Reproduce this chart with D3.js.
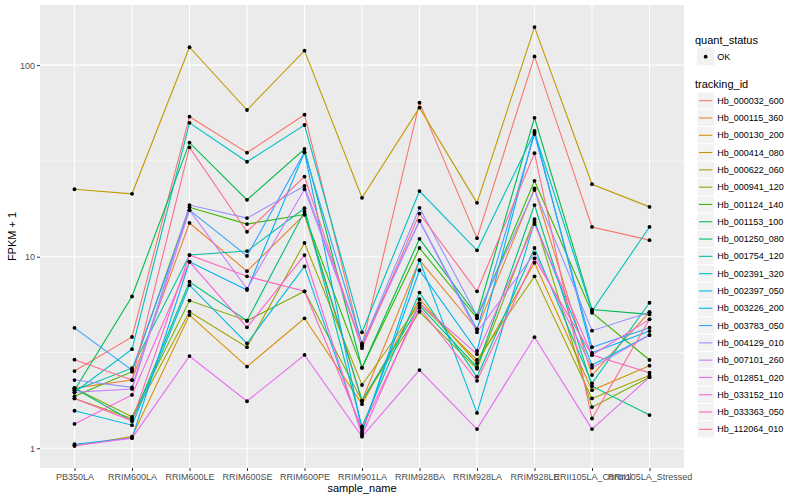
<!DOCTYPE html>
<html>
<head>
<meta charset="utf-8">
<script src="https://cdn.jsdelivr.net/npm/d3@7"></script>
<style>
	body { margin: 0; background: #fff; }
	text { font-family: 'Liberation Sans', Arial, sans-serif; }
</style>
</head>
<body>
<svg class="chart" width="800" height="500"></svg>
<script>
/** DATA **/
let samples = ['PB350LA', 'RRIM600LA', 'RRIM600LE', 'RRIM600SE', 'RRIM600PE', 'RRIM901LA',
	'RRIM928BA', 'RRIM928LA', 'RRIM928LE', 'RRII105LA_Control', 'RRII105LA_Stressed'];

let trackingIds = ['Hb_000032_600', 'Hb_000115_360', 'Hb_000130_200', 'Hb_000414_080', 'Hb_000622_060',
	'Hb_000941_120', 'Hb_001124_140', 'Hb_001153_100', 'Hb_001250_080', 'Hb_001754_120',
	'Hb_002391_320', 'Hb_002397_050', 'Hb_003226_200', 'Hb_003783_050', 'Hb_004129_010',
	'Hb_007101_260', 'Hb_012851_020', 'Hb_033152_110', 'Hb_033363_050', 'Hb_112064_010'];

// fpkm per gene, one value per sample (same order as samples)
let fpkm = [
	[1.53, 2.81, 52.8, 33.9, 54.1, 2.43, 62.7, 11.5, 110, 13.3, 11.2],
	[1.06, 1.27, 14.0, 7.4, 15.6, 0.77, 8.6, 3.18, 21.7, 1.41, 4.13],
	[0.03, 0.15, 3.96, 1.67, 3.77, 0.70, 5.0, 1.78, 8.3, 1.01, 1.70],
	[21.5, 20.3, 123, 57.3, 118, 19.3, 59, 18.1, 157, 22.9, 17.2],
	[0.82, 0.43, 4.16, 2.37, 10.8, 1.14, 4.7, 1.89, 6.9, 0.82, 1.40],
	[1.06, 0.46, 4.9, 3.63, 5.6, 0.77, 4.16, 1.60, 14.7, 0.64, 1.35],
	[0.87, 1.51, 17.1, 13.8, 15.6, 1.63, 10.1, 3.77, 23.9, 4.1, 1.89],
	[1.01, 5.2, 38.4, 18.8, 35.5, 1.63, 11.4, 3.92, 52.1, 4.3, 4.0],
	[1.06, 0.39, 6.4, 3.63, 16.2, 0.77, 4.55, 1.65, 17.6, 1.11, 0.49],
	[1.01, 1.62, 9.2, 9.7, 16.9, 0.30, 5.5, 1.36, 10.1, 1.18, 4.75],
	[0.96, 2.29, 49.0, 30.3, 47.7, 3.03, 21.0, 9.8, 43.6, 4.2, 13.3],
	[0.57, 0.32, 6.1, 2.53, 7.9, 0.20, 8.6, 0.53, 14.2, 1.72, 2.90],
	[0.05, 0.13, 8.4, 5.7, 34.1, 0.23, 7.5, 2.22, 44.3, 2.15, 3.09],
	[3.25, 1.56, 16.5, 9.1, 34.1, 2.53, 14.4, 3.18, 42.7, 2.37, 3.26],
	[1.27, 1.08, 17.6, 14.9, 22.4, 2.46, 17.0, 3.92, 21.3, 3.11, 4.13],
	[0.96, 1.04, 16.5, 5.8, 21.5, 2.43, 14.4, 3.03, 9.4, 1.63, 2.90],
	[0.03, 0.13, 2.03, 0.76, 2.07, 0.15, 1.56, 0.26, 2.80, 0.26, 1.35],
	[0.34, 0.90, 8.4, 3.28, 9.2, 0.17, 4.7, 2.10, 13.8, 2.07, 3.71],
	[0.82, 0.39, 9.2, 6.9, 5.6, 0.27, 4.4, 1.25, 8.8, 2.07, 1.48],
	[1.90, 1.27, 36.2, 12.5, 25.2, 2.33, 15.8, 5.6, 33.7, 0.43, 3.71]
];

let quantStatus = ['OK'];
let yTicks = [1, 10, 100];
let yMinor = [Math.sqrt(10), Math.sqrt(1000)];

// ggplot default hue palette for 20 levels
let colors = ['#F8766D', '#EA8331', '#D89000', '#C09B00', '#A3A500', '#7CAE00', '#39B600', '#00BB4E',
	'#00BF7D', '#00C1A3', '#00BFC4', '#00BAE0', '#00B0F6', '#35A2FF', '#9590FF', '#C77CFF',
	'#E76BF3', '#FA62DB', '#FF62BC', '#FF6C91'];

/** CONSTANTS **/
let panel = { left: 40, right: 684, top: 5, bottom: 468 };

let x = d3.scalePoint()
	.domain(samples)
	.range([panel.left, panel.right])
	.padding(0.6);

let y = d3.scaleLog()
	.domain([0.789, 206])
	.range([panel.bottom, panel.top]);

let color = d3.scaleOrdinal().domain(trackingIds).range(colors);

let svg = d3.select('.chart');

// build one row per gene
let series = trackingIds.map(function(id, i) {
	return { id: id, values: samples.map(function(s, j) { return { sample: s, value: fpkm[i][j] }; }) };
});

createPanel();
createLines();
createAxes();
createLegend();

function createPanel() {
	svg.append('rect')
		.attr('x', panel.left).attr('y', panel.top)
		.attr('width', panel.right - panel.left)
		.attr('height', panel.bottom - panel.top)
		.attr('fill', '#EBEBEB');

	// minor grid
	svg.selectAll('.minor')
		.data(yMinor).enter().append('line')
		.attr('x1', panel.left).attr('x2', panel.right)
		.attr('y1', function(d) { return y(d); }).attr('y2', function(d) { return y(d); })
		.attr('stroke', '#fff').attr('stroke-width', 0.55);

	// major grid
	svg.selectAll('.hgrid')
		.data(yTicks).enter().append('line')
		.attr('x1', panel.left).attr('x2', panel.right)
		.attr('y1', function(d) { return y(d); }).attr('y2', function(d) { return y(d); })
		.attr('stroke', '#fff').attr('stroke-width', 1.1);

	svg.selectAll('.vgrid')
		.data(samples).enter().append('line')
		.attr('x1', function(d) { return x(d); }).attr('x2', function(d) { return x(d); })
		.attr('y1', panel.top).attr('y2', panel.bottom)
		.attr('stroke', '#fff').attr('stroke-width', 1.1);
}

function createLines() {
	let line = d3.line()
		.x(function(d) { return x(d.sample); })
		.y(function(d) { return y(d.value + 1); });

	svg.selectAll('.gene')
		.data(series).enter().append('path')
		.attr('d', function(d) { return line(d.values); })
		.attr('fill', 'none')
		.attr('stroke', function(d) { return color(d.id); })
		.attr('stroke-width', 1.1);

	let pts = [];
	series.forEach(function(s) { s.values.forEach(function(v) { pts.push(v); }); });

	svg.selectAll('.pt')
		.data(pts).enter().append('circle')
		.attr('cx', function(d) { return x(d.sample); })
		.attr('cy', function(d) { return y(d.value + 1); })
		.attr('r', 1.9)
		.attr('fill', '#000');
}

function createAxes() {
	let yAxis = svg.append('g')
		.attr('transform', 'translate(' + panel.left + ',0)')
		.call(d3.axisLeft(y).tickValues(yTicks).tickFormat(d3.format('d')).tickSize(3).tickPadding(2));

	let xAxis = svg.append('g')
		.attr('transform', 'translate(0,' + panel.bottom + ')')
		.call(d3.axisBottom(x).tickSize(3).tickPadding(3));

	[yAxis, xAxis].forEach(function(g) {
		g.select('.domain').remove();
		g.selectAll('line').attr('stroke', '#333333').attr('stroke-width', 1);
		g.selectAll('text').attr('fill', '#4D4D4D').style('font-size', '9px')
			.style('font-family', "'Liberation Sans', Arial, sans-serif");
	});

	svg.append('text')
		.attr('x', (panel.left + panel.right) / 2)
		.attr('y', 492)
		.attr('text-anchor', 'middle')
		.style('font-size', '11px')
		.text('sample_name');

	svg.append('text')
		.attr('transform', 'translate(16,' + ((panel.top + panel.bottom) / 2) + ') rotate(-90)')
		.attr('text-anchor', 'middle')
		.style('font-size', '11px')
		.text('FPKM + 1');
}

function createLegend() {
	let lx = 697;
	let keySize = 17.3;

	// quant_status legend
	svg.append('text')
		.attr('x', lx - 2).attr('y', 44)
		.style('font-size', '11px')
		.text('quant_status');

	let q = svg.selectAll('.qkey')
		.data(quantStatus).enter().append('g')
		.attr('transform', function(d, i) { return 'translate(' + lx + ',' + (48 + i * keySize) + ')'; });
	q.append('rect')
		.attr('width', keySize).attr('height', keySize)
		.attr('fill', '#F2F2F2');
	q.append('circle')
		.attr('cx', keySize / 2).attr('cy', keySize / 2).attr('r', 1.9)
		.attr('fill', '#000');
	q.append('text')
		.attr('x', keySize + 3).attr('y', keySize / 2).attr('dy', '0.35em')
		.style('font-size', '9px')
		.text(function(d) { return d; });

	// tracking_id legend
	svg.append('text')
		.attr('x', lx - 2).attr('y', 88)
		.style('font-size', '11px')
		.text('tracking_id');

	let t = svg.selectAll('.tkey')
		.data(trackingIds).enter().append('g')
		.attr('transform', function(d, i) { return 'translate(' + lx + ',' + (92 + i * keySize) + ')'; });
	t.append('rect')
		.attr('width', keySize).attr('height', keySize)
		.attr('fill', '#F2F2F2')
		.attr('stroke', '#fff').attr('stroke-width', 1);
	t.append('line')
		.attr('x1', 2).attr('x2', keySize - 2)
		.attr('y1', keySize / 2).attr('y2', keySize / 2)
		.attr('stroke', function(d) { return color(d); })
		.attr('stroke-width', 1.1);
	t.append('text')
		.attr('x', keySize + 3).attr('y', keySize / 2).attr('dy', '0.35em')
		.style('font-size', '9px')
		.text(function(d) { return d; });
}
</script>
</body>
</html>
